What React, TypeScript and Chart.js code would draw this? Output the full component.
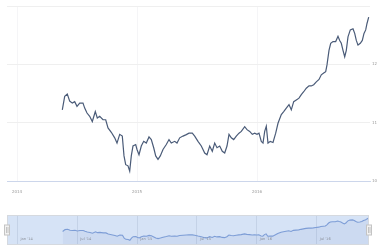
import React, { useEffect, useRef } from "react";
import { Chart, registerables } from "chart.js";

Chart.register(...registerables);

// months since Jan 2014
const months = [4.53, 4.77, 5.03, 5.27, 5.53, 5.77, 6.0, 6.27, 6.6, 6.77, 7.0, 7.27, 7.53, 7.83, 8.03, 8.27, 8.6, 8.87, 9.1, 9.43, 9.77, 10.0, 10.27, 10.53, 10.7, 10.87, 11.1, 11.27, 11.43, 11.6, 11.87, 12.0, 12.2, 12.43, 12.67, 12.93, 13.2, 13.43, 13.67, 13.87, 14.1, 14.33, 14.6, 14.93, 15.2, 15.43, 15.77, 16.0, 16.27, 16.6, 16.93, 17.2, 17.53, 17.77, 18.1, 18.43, 18.77, 19.0, 19.27, 19.53, 19.77, 20.0, 20.27, 20.53, 20.77, 21.0, 21.2, 21.43, 21.67, 21.93, 22.2, 22.43, 22.77, 23.0, 23.27, 23.53, 23.77, 24.0, 24.2, 24.43, 24.6, 24.77, 24.93, 25.1, 25.33, 25.6, 25.87, 26.1, 26.43, 26.67, 26.93, 27.2, 27.43, 27.67, 27.93, 28.2, 28.43, 28.67, 28.93, 29.2, 29.43, 29.67, 29.93, 30.2, 30.43, 30.67, 30.87, 31.0, 31.2, 31.37, 31.6, 31.87, 32.1, 32.27, 32.43, 32.6, 32.77, 32.93, 33.1, 33.33, 33.6, 33.77, 33.93, 34.1, 34.33, 34.53, 34.7, 34.87, 35.0, 35.17];

const values = [112.2, 114.5, 114.9, 113.7, 113.35, 113.6, 112.8, 113.35, 113.35, 112.5, 111.65, 111.1, 110.2, 111.9, 110.8, 111.1, 110.5, 110.5, 109.1, 108.35, 107.4, 106.5, 108.0, 107.7, 104.3, 102.8, 102.6, 101.7, 104.3, 106.0, 106.25, 105.4, 104.5, 106.0, 106.8, 106.5, 107.55, 107.1, 105.7, 104.3, 103.7, 104.3, 105.4, 106.25, 107.1, 106.5, 106.8, 106.5, 107.4, 107.7, 107.95, 108.2, 108.2, 107.7, 106.8, 106.0, 104.8, 104.5, 106.0, 105.1, 106.5, 105.7, 106.0, 105.1, 104.8, 106.0, 108.0, 107.4, 107.1, 107.7, 108.2, 108.5, 109.3, 108.8, 108.5, 108.0, 108.2, 108.0, 108.2, 106.8, 106.5, 108.5, 109.4, 106.5, 106.8, 106.6, 108.2, 109.9, 111.4, 111.9, 112.5, 113.1, 112.2, 113.6, 113.9, 114.2, 114.8, 115.3, 115.9, 116.3, 116.3, 116.5, 117.0, 117.4, 118.2, 118.5, 118.75, 119.9, 122.4, 123.6, 123.9, 123.9, 124.8, 124.1, 123.6, 122.4, 121.3, 122.4, 124.7, 125.9, 126.1, 125.3, 124.1, 123.3, 123.6, 124.1, 125.3, 125.9, 127.0, 128.1];

const yearTicks = [0, 12, 24];
const yearLabels = ["2014", "2015", "2016"];
const navTicks = [0, 6, 12, 18, 24, 30];
const navLabels = ["Jan '14", "Jul '14", "Jan '15", "Jul '15", "Jan '16", "Jul '16"];
const yTicks = [100, 110, 120, 130];
const yLabels = ["100", "110", "120", ""];

const FONT = "'DejaVu Sans', sans-serif";

export default function App() {
  const mainRef = useRef<HTMLCanvasElement>(null);
  const navRef = useRef<HTMLCanvasElement>(null);

  useEffect(() => {
    const pts = months.map((m, i) => ({ x: m, y: values[i] }));

    const main = new Chart(mainRef.current!, {
      type: "line",
      data: {
        datasets: [
          {
            data: pts,
            borderColor: "#4a5b78",
            borderWidth: 1.2,
            pointRadius: 0,
            tension: 0,
            fill: false,
          },
        ],
      },
      options: {
        animation: false,
        responsive: false,
        events: [],
        layout: { padding: { left: 7, top: 6, right: 0, bottom: 0 } },
        plugins: { legend: { display: false }, tooltip: { enabled: false } },
        scales: {
          x: {
            type: "linear",
            min: -1,
            max: 35.3,
            afterBuildTicks: (s: any) => {
              s.ticks = yearTicks.map((v) => ({ value: v }));
            },
            afterFit: (s: any) => {
              s.height = 19;
            },
            grid: { color: "#f5f5f7", drawTicks: false },
            border: { display: true, color: "#ccd6eb", width: 1 },
            ticks: {
              padding: 9,
              color: "#999",
              font: { size: 4, family: FONT },
              maxRotation: 0,
              callback: (v: any) => {
                const i = yearTicks.indexOf(Number(v));
                return i >= 0 ? yearLabels[i] : "";
              },
            },
          },
          y: {
            position: "right",
            min: 100,
            max: 130,
            afterBuildTicks: (s: any) => {
              s.ticks = yTicks.map((v) => ({ value: v }));
            },
            afterFit: (s: any) => {
              s.width = 7;
            },
            grid: {
              drawTicks: false,
              color: (c: any) => (c.tick && c.tick.value === 100 ? "rgba(0,0,0,0)" : "#efefef"),
            },
            border: { display: false },
            ticks: {
              padding: 2,
              color: "#999",
              font: { size: 4, family: FONT },
              callback: (v: any) => {
                const i = yTicks.indexOf(Number(v));
                return i >= 0 ? yLabels[i] : "";
              },
            },
          },
        },
      },
    });

    const navPlugin = {
      id: "navDecor",
      beforeDraw(chart: any) {
        const { ctx, chartArea: a } = chart;
        ctx.save();
        ctx.fillStyle = "rgb(214,227,246)";
        ctx.fillRect(a.left, a.top, a.right - a.left, a.bottom - a.top);
        ctx.restore();
      },
      afterDraw(chart: any) {
        const { ctx, chartArea: a } = chart;
        const xs = chart.scales.x;
        ctx.save();
        ctx.fillStyle = "#8a8f99";
        ctx.font = `3.6px ${FONT}`;
        ctx.textBaseline = "alphabetic";
        ctx.textAlign = "left";
        navTicks.forEach((v, i) => {
          ctx.fillText(navLabels[i], xs.getPixelForValue(v) + 3, a.bottom - 5);
        });
        ctx.strokeStyle = "#d5d9df";
        ctx.lineWidth = 1;
        ctx.strokeRect(a.left + 0.5, a.top + 0.5, a.right - a.left - 1, a.bottom - a.top - 1);
        const mid = (a.top + a.bottom) / 2;
        [a.left, a.right].forEach((hx: number) => {
          ctx.fillStyle = "#f2f2f2";
          ctx.strokeStyle = "#c4c4c4";
          ctx.fillRect(hx - 2.5, mid - 5, 5, 10);
          ctx.strokeRect(hx - 2.5, mid - 5, 5, 10);
          ctx.beginPath();
          ctx.moveTo(hx - 0.5, mid - 3);
          ctx.lineTo(hx - 0.5, mid + 3);
          ctx.moveTo(hx + 1, mid - 3);
          ctx.lineTo(hx + 1, mid + 3);
          ctx.stroke();
        });
        ctx.restore();
      },
    };

    const nav = new Chart(navRef.current!, {
      type: "line",
      data: {
        datasets: [
          {
            data: pts,
            borderColor: "#7d9dd6",
            backgroundColor: "rgba(51,92,173,0.06)",
            borderWidth: 1.1,
            pointRadius: 0,
            tension: 0,
            fill: "start",
          },
        ],
      },
      options: {
        animation: false,
        responsive: false,
        events: [],
        layout: { padding: { left: 7, top: 15, right: 8, bottom: 3 } },
        plugins: { legend: { display: false }, tooltip: { enabled: false } },
        scales: {
          x: {
            type: "linear",
            min: -1.05,
            max: 35.25,
            afterBuildTicks: (s: any) => {
              s.ticks = navTicks.map((v) => ({ value: v }));
            },
            afterFit: (s: any) => {
              s.height = 0;
            },
            grid: { color: "rgba(170,185,210,0.4)", drawTicks: false },
            border: { display: false },
            ticks: { display: false },
          },
          y: {
            display: false,
            min: 96,
            max: 132,
          },
        },
      },
      plugins: [navPlugin],
    });

    return () => {
      main.destroy();
      nav.destroy();
    };
  }, []);

  return (
    <div style={{ position: "absolute", left: 0, top: 0, width: 377, height: 248, background: "#fff" }}>
      <canvas ref={mainRef} width={377} height={200} style={{ display: "block", width: 377, height: 200 }} />
      <canvas ref={navRef} width={377} height={48} style={{ display: "block", width: 377, height: 48 }} />
    </div>
  );
}
